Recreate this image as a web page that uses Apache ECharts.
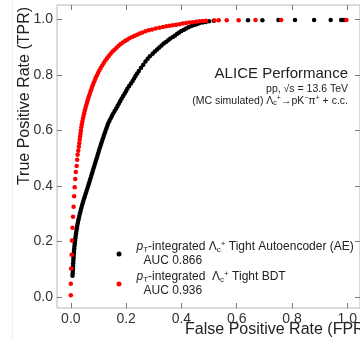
<!DOCTYPE html>
<html><head><meta charset="utf-8">
<script src="https://cdn.jsdelivr.net/npm/echarts@6/dist/echarts.min.js"></script>
<style>html,body{margin:0;padding:0;background:#fff}#c{width:360px;height:341px}</style>
</head><body><div id="c"></div><script>
const tickValues = [0, 0.2, 0.4, 0.6, 0.8, 1.0];
const seriesNames = ['AE', 'BDT'];
const aucValues = ['0.866', '0.936'];

const fprAE = [
0.0060,0.0068,0.0073,0.0078,0.0083,0.0086,0.0092,0.0097,0.0102,0.0108,
0.0116,0.0125,0.0134,0.0144,0.0154,0.0164,0.0176,0.0189,0.0203,0.0217,
0.0233,0.0250,0.0268,0.0287,0.0308,0.0330,0.0352,0.0375,0.0400,0.0425,
0.0452,0.0480,0.0510,0.0539,0.0568,0.0597,0.0626,0.0654,0.0682,0.0710,
0.0738,0.0765,0.0792,0.0820,0.0848,0.0876,0.0904,0.0932,0.0960,0.0987,
0.1014,0.1042,0.1071,0.1100,0.1130,0.1160,0.1190,0.1221,0.1253,0.1285,
0.1318,0.1350,0.1395,0.1440,0.1485,0.1535,0.1585,0.1640,0.1690,0.1740,
0.1790,0.1840,0.1895,0.1950,0.2000,0.2050,0.2110,0.2175,0.2235,0.2290,
0.2340,0.2400,
0.2460,0.2540,0.2620,0.2700,0.2780,0.2860,0.2960,0.3040,0.3120,0.3200,
0.3280,0.3360,0.3440,0.3520,0.3600,0.3690,0.3770,0.3850,0.3920,0.4000,
0.4090,0.4170,0.4260,0.4360,0.4460,0.4550,0.4640,0.4760,0.4880,0.5000,
0.5170,0.6410,0.6930,0.7510,0.8110,0.8800,0.9400,0.9780,0.9880
];
const tprAE = [
0.076,0.085,0.094,0.103,0.112,0.121,0.130,0.139,0.148,0.157,
0.166,0.175,0.184,0.193,0.202,0.211,0.220,0.229,0.238,0.247,
0.256,0.265,0.274,0.283,0.292,0.301,0.310,0.319,0.328,0.337,
0.346,0.355,0.364,0.373,0.382,0.391,0.400,0.409,0.418,0.427,
0.436,0.445,0.454,0.463,0.472,0.481,0.490,0.499,0.508,0.517,
0.526,0.535,0.544,0.553,0.562,0.571,0.580,0.589,0.598,0.607,
0.616,0.625,0.634,0.643,0.652,0.661,0.670,0.679,0.688,0.697,
0.706,0.715,0.724,0.733,0.742,0.751,0.760,0.769,0.778,0.787,
0.796,0.805,
0.814,0.826,0.837,0.848,0.858,0.867,0.876,0.884,0.892,0.899,
0.906,0.913,0.919,0.925,0.931,0.937,0.942,0.948,0.953,0.958,
0.963,0.967,0.972,0.976,0.980,0.983,0.986,0.989,0.991,0.993,
0.995,0.997,0.997,0.998,0.998,0.998,0.998,0.998,0.998
];

const fprBDT = [
0.000,0.000,0.001,0.003,0.004,0.006,0.008,0.010,0.012,0.014,0.016,0.018,0.021,0.023,
0.0245,0.0270,0.0290,0.0305,0.0320,0.0335,0.0350,0.0365,0.0380,0.0398,
0.0418,0.0438,0.0460,0.0482,0.0505,0.0530,0.0555,0.0580,0.0607,0.0635,
0.0665,0.0695,0.0725,0.0757,0.0790,0.0825,0.0862,0.0900,0.0940,0.0985,
0.1030,0.1080,0.1135,0.1190,0.1250,0.1310,0.1375,0.1440,0.1510,0.1580,
0.1655,0.1730,0.1805,0.1880,0.1960,0.2040,0.2120,0.2220,0.2310,0.2400,
0.2490,0.2590,0.2700,0.2820,0.2940,0.3070,0.3200,0.3330,0.3450,0.3570,
0.3690,0.3810,0.3930,0.4050,0.4170,0.4290,0.4410,0.4530,0.4650,0.4770,
0.4890,
0.520,0.535,0.564,0.607,0.668,0.761,0.997
];
const tprBDT = [
0.006,0.047,0.102,0.152,0.203,0.249,0.289,0.325,0.363,0.395,0.425,0.450,0.472,0.494,
0.512,0.527,0.541,0.554,0.566,0.578,0.589,0.600,0.611,0.622,
0.632,0.642,0.652,0.662,0.672,0.681,0.690,0.699,0.708,0.717,
0.726,0.735,0.744,0.753,0.762,0.771,0.780,0.789,0.798,0.807,
0.816,0.825,0.834,0.843,0.852,0.860,0.868,0.876,0.884,0.891,
0.898,0.905,0.911,0.917,0.922,0.927,0.932,0.937,0.941,0.945,
0.949,0.953,0.957,0.961,0.964,0.967,0.970,0.973,0.975,0.977,
0.979,0.981,0.983,0.985,0.987,0.989,0.990,0.992,0.993,0.994,
0.995,
0.996,0.997,0.997,0.997,0.998,0.998,0.998
];

const F = '"Liberation Sans", Arial, Helvetica, sans-serif';
const TXT = '#222';
function zip(xs, ys) { return xs.map((x, i) => [x, ys[i]]); }

const chart = echarts.init(document.getElementById('c'), null, {renderer: 'canvas'});

const tickLabel = {customValues: tickValues, formatter: v => v.toFixed(1), fontSize: 14,
  color: '#333', fontFamily: F};
const tick = {show: true, inside: true, length: 5, customValues: tickValues,
  lineStyle: {color: '#777', width: 1}};
const noLine = {show: false, onZero: false};

const subStyle = {fontFamily: F, fontSize: 8, color: TXT, lineHeight: 6, verticalAlign: 'bottom'};
const supStyle = {fontFamily: F, fontSize: 8, color: TXT, lineHeight: 6, verticalAlign: 'top'};

const legendLabels = {
  AE: '{pi|p}{sub|T}{t|-integrated Λ}{sub|c}{sup|+}{t| Tight Autoencoder (AE)}\n{a|AUC ' + aucValues[0] + '}',
  BDT: '{pi|p}{sub|T}{t|-integrated  Λ}{sub|c}{sup|+}{t| Tight BDT}\n{a|AUC ' + aucValues[1] + '}'
};

chart.setOption({
  animation: false,
  grid: {left: 57, top: 5, width: 305, height: 303, show: true,
    borderColor: '#b8b8b8', borderWidth: 1, backgroundColor: 'transparent'},
  xAxis: [
    {type: 'value', position: 'bottom', min: -0.05, max: 1.046,
      axisLine: noLine, splitLine: {show: false},
      axisTick: tick, axisLabel: Object.assign({margin: 4}, tickLabel)},
    {type: 'value', position: 'top', min: -0.05, max: 1.046,
      axisLine: noLine, splitLine: {show: false},
      axisTick: tick, axisLabel: {show: false, customValues: tickValues}}
  ],
  yAxis: [
    {type: 'value', position: 'left', min: -0.04, max: 1.052,
      axisLine: noLine, splitLine: {show: false},
      axisTick: tick, axisLabel: Object.assign({margin: 4}, tickLabel)},
    {type: 'value', position: 'right', min: -0.04, max: 1.052,
      axisLine: noLine, splitLine: {show: false},
      axisTick: tick, axisLabel: {show: false, customValues: tickValues}}
  ],
  legend: {
    data: seriesNames, orient: 'vertical', left: 116.5, top: 240, padding: 0,
    itemGap: 3, itemWidth: 5, itemHeight: 5, icon: 'circle', selectedMode: false,
    formatter: name => legendLabels[name],
    textStyle: {
      fontFamily: F, fontSize: 12, color: TXT,
      rich: {
        pi: {fontFamily: F, fontSize: 12, fontStyle: 'italic', color: TXT, lineHeight: 14, padding: [0, 0, 0, 10]},
        t: {fontFamily: F, fontSize: 12, color: TXT, lineHeight: 14},
        sub: subStyle, sup: supStyle,
        a: {fontFamily: F, fontSize: 12, color: TXT, lineHeight: 14, padding: [0, 0, 0, 17]}
      }
    }
  },
  series: [
    {type: 'scatter', name: seriesNames[0], data: zip(fprAE, tprAE), symbol: 'circle',
      symbolSize: 4.5, itemStyle: {color: '#000000', opacity: 1}, silent: true},
    {type: 'scatter', name: seriesNames[1], data: zip(fprBDT, tprBDT), symbol: 'circle',
      symbolSize: 4.5, itemStyle: {color: '#ff0000', opacity: 1}, silent: true}
  ],
  graphic: [
    {type: 'line', shape: {x1: 12.5, y1: 0, x2: 12.5, y2: 341}, style: {stroke: '#eeeeee', lineWidth: 1}, silent: true},
    {type: 'text', x: 25, y: 96, rotation: Math.PI / 2, silent: true,
      style: {text: 'True Positive Rate (TPR)', fontFamily: F, fontSize: 16, fill: TXT, align: 'center', verticalAlign: 'middle'}},
    {type: 'text', x: 370, y: 330, silent: true,
      style: {text: 'False Positive Rate (FPR)', fontFamily: F, fontSize: 16, fill: TXT, align: 'right', verticalAlign: 'middle'}},
    {type: 'text', x: 348, y: 74, silent: true,
      style: {text: 'ALICE Performance', fontFamily: F, fontSize: 15, fill: TXT, align: 'right', verticalAlign: 'middle'}},
    {type: 'text', x: 348, y: 89, silent: true,
      style: {text: 'pp, √s = 13.6 TeV', fontFamily: F, fontSize: 10.5, fill: TXT, align: 'right', verticalAlign: 'middle'}},
    {type: 'text', x: 348, y: 101, silent: true,
      style: {text: '{t|(MC simulated) Λ}{sub|c}{sup|+}{t|→pK}{sup|−}{t|π}{sup|+}{t| + c.c.}',
        fontFamily: F, fontSize: 10.5, fill: TXT, align: 'right', verticalAlign: 'middle',
        rich: {
          t: {fontFamily: F, fontSize: 10.5, fill: TXT, lineHeight: 12},
          sub: {fontFamily: F, fontSize: 7, fill: TXT, lineHeight: 5, verticalAlign: 'bottom'},
          sup: {fontFamily: F, fontSize: 7, fill: TXT, lineHeight: 5, verticalAlign: 'top'}
        }}}
  ]
});
</script></body></html>
